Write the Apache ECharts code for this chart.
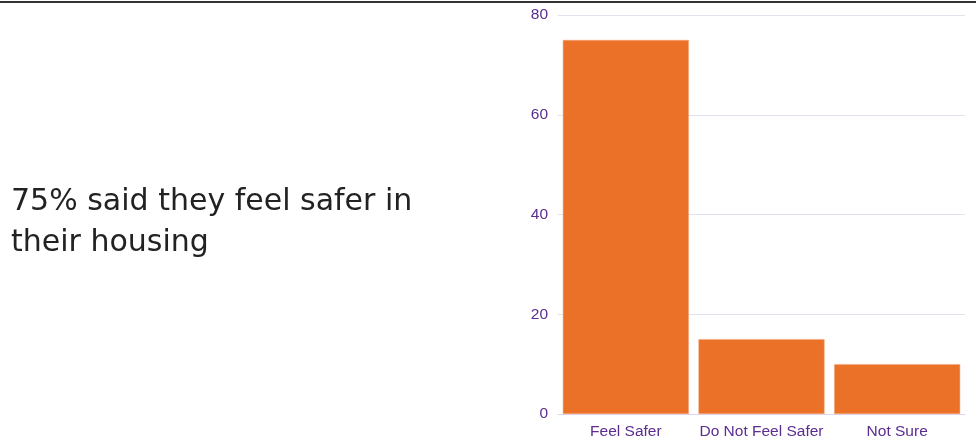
<!DOCTYPE html>
<html>
<head>
<meta charset="utf-8">
<script src="https://cdn.jsdelivr.net/npm/echarts@6/dist/echarts.min.js"></script>
<style>html,body{margin:0;padding:0;background:#fff}#c{width:976px;height:440px}</style>
</head>
<body>
<div id="c"></div>
<script>
const categories = ["Feel Safer", "Do Not Feel Safer", "Not Sure"];
const values = [75, 15, 10];
const yTicks = [0, 20, 40, 60, 80];
const headline = "75% said they feel safer in\ntheir housing";

const chart = echarts.init(document.getElementById('c'), null, {renderer: 'canvas'});
chart.setOption({
  animation: false,
  backgroundColor: '#ffffff',
  graphic: [
    {type: 'rect', shape: {x: 0, y: 1, width: 976, height: 2}, style: {fill: '#333333'}},
    {type: 'text', left: 11, top: 182, style: {text: headline, font: '30px "DejaVu Sans", sans-serif', fill: '#222222', lineHeight: 41}}
  ],
  grid: {left: 558, right: 11, top: 15, bottom: 25, containLabel: false},
  xAxis: {
    type: 'category',
    data: categories,
    axisTick: {show: false},
    axisLine: {show: true, lineStyle: {color: '#dcd6ec', width: 1}},
    axisLabel: {interval: 0, color: '#5b2d90', fontSize: 15.5, fontFamily: 'Liberation Sans, Arial, sans-serif', margin: 10}
  },
  yAxis: {
    type: 'value',
    min: yTicks[0],
    max: yTicks[yTicks.length - 1],
    interval: 20,
    axisLine: {show: false},
    axisTick: {show: false},
    splitLine: {lineStyle: {color: '#e4e0f0', width: 1}},
    axisLabel: {color: '#5b2d90', fontSize: 15.5, fontFamily: 'Liberation Sans, Arial, sans-serif', margin: 10}
  },
  series: [{
    type: 'bar',
    data: values,
    barCategoryGap: '7.1%',
    itemStyle: {color: '#eb7128', borderColor: '#f3a77a', borderWidth: 0.5}
  }]
});
</script>
</body>
</html>
